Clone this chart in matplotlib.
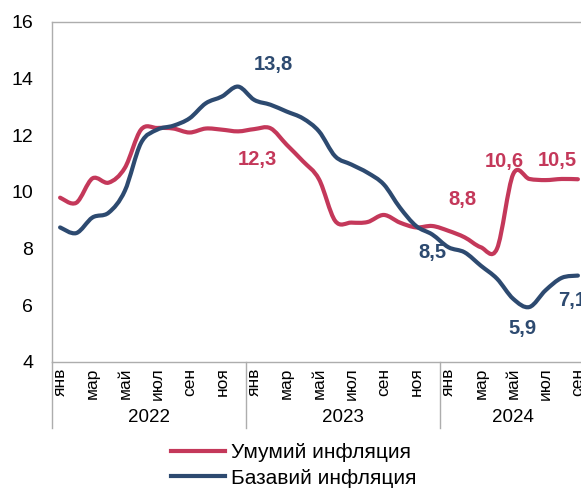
import matplotlib
matplotlib.use("Agg")
import matplotlib.pyplot as plt
import matplotlib.transforms as mtransforms
from matplotlib.path import Path
from matplotlib.patches import PathPatch
from matplotlib.lines import Line2D

plt.rcParams['font.family'] = ['Liberation Sans', 'DejaVu Sans']

years = ["2022", "2023", "2024"]
months_per_year = [12, 12, 9]
month_labels = ["янв", "", "мар", "", "май", "", "июл", "", "сен", "", "ноя", ""]

headline = [9.8, 9.62, 10.48, 10.33, 10.85, 12.2, 12.26, 12.24, 12.1, 12.24, 12.2, 12.14,
            12.22, 12.25, 11.67, 11.09, 10.45, 8.98, 8.92, 8.94, 9.19, 8.92, 8.75, 8.8,
            8.63, 8.4, 8.05, 8.0, 10.63, 10.46, 10.42, 10.46, 10.45]
core = [8.75, 8.55, 9.1, 9.27, 10.04, 11.73, 12.2, 12.34, 12.6, 13.13, 13.37, 13.72,
        13.25, 13.08, 12.84, 12.6, 12.14, 11.26, 10.97, 10.68, 10.27, 9.45, 8.8, 8.5,
        8.05, 7.87, 7.4, 6.94, 6.23, 5.94, 6.53, 6.97, 7.05]

series_names = ["Умумий инфляция", "Базавий инфляция"]
colors = ["#C4385A", "#2D4A70"]

# data labels: (series index, point index, text, dx px, dy px, ha)
labels = [
    (1, 11, "13,8", 35, 22, "center"),
    (0, 12, "12,3", 3, -30, "center"),
    (1, 23, "8,5", 0, -18, "center"),
    (0, 23, "8,8", 30, 27, "center"),
    (0, 28, "10,6", -9, 13, "center"),
    (0, 31, "10,5", -4, 18, "center"),
    (1, 29, "5,9", -7, -21, "center"),
    (1, 32, "7,1", -20, -25, "left"),
]


def smooth_path(xs, ys, t=1/6):
    """Bezier path through the data points (Excel-style smoothed line)."""
    verts = [(xs[0], ys[0])]
    codes = [Path.MOVETO]
    n = len(xs)
    for i in range(n - 1):
        x0, y0 = xs[max(i - 1, 0)], ys[max(i - 1, 0)]
        x1, y1 = xs[i], ys[i]
        x2, y2 = xs[i + 1], ys[i + 1]
        x3, y3 = xs[min(i + 2, n - 1)], ys[min(i + 2, n - 1)]
        c1 = (x1 + (x2 - x0) * t, y1 + (y2 - y0) * t)
        c2 = (x2 - (x3 - x1) * t, y2 - (y3 - y1) * t)
        verts += [c1, c2, (x2, y2)]
        codes += [Path.CURVE4] * 3
    return Path(verts, codes)


fig = plt.figure(figsize=(5.81, 4.88), dpi=100)
ax = fig.add_axes([52/581, 1-362/488, 534/581, 340/488])

n = len(headline)
x = list(range(n))
series = [headline, core]
handles = []
for vals, c, name in zip(series, colors, series_names):
    patch = PathPatch(smooth_path(x, vals), facecolor='none', edgecolor=c, lw=3.0,
                      joinstyle='round', capstyle='round', clip_on=False)
    ax.add_patch(patch)
    handles.append(Line2D([], [], color=c, lw=3.0, label=name))

ax.set_xlim(-0.5, n - 0.5)
ax.set_ylim(4, 16)
ax.set_yticks(range(4, 17, 2))
ax.tick_params(axis='y', length=0, labelsize=14, pad=13.5)

gray = "#ADADAD"
for s in ['left', 'top', 'bottom']:
    ax.spines[s].set_color(gray)
    ax.spines[s].set_linewidth(1.0)
ax.spines['right'].set_visible(False)

# month tick labels
tick_pos = []
tick_txt = []
i0 = 0
for m in months_per_year:
    for k in range(m):
        if month_labels[k]:
            tick_pos.append(i0 + k)
            tick_txt.append(month_labels[k])
    i0 += m
ax.set_xticks(tick_pos)
ax.set_xticklabels(tick_txt, rotation=90, fontsize=12.5, va='top')
ax.tick_params(axis='x', length=0, pad=4)

# year group labels and dividers
trans = mtransforms.blended_transform_factory(ax.transData, ax.transAxes)
div_bottom = -(428 - 362) / 340
year_y = -(417 - 362) / 340
i0 = 0
for yr, m in zip(years, months_per_year):
    ax.plot([i0 - 0.5, i0 - 0.5], [0, div_bottom], transform=trans, color=gray,
            lw=1.0, clip_on=False)
    ax.text(i0 - 0.5 + m / 2, year_y, yr, transform=trans, ha='center', va='center',
            fontsize=13.5)
    i0 += m

for si, idx, txt, dx, dy, ha in labels:
    ax.annotate(txt, xy=(idx, series[si][idx]), xytext=(dx * 0.72, dy * 0.72),
                textcoords='offset points', ha=ha, va='center', fontsize=14.5,
                fontweight='bold', color=colors[si], annotation_clip=False)

fig.legend(handles=handles, labels=series_names, loc='center',
           bbox_to_anchor=(294/581, 1 - 465.5/488), frameon=False, fontsize=15,
           handlelength=2.6, handletextpad=0.3, labelspacing=0.3, borderpad=0)

fig.savefig("out.png", dpi=100)
